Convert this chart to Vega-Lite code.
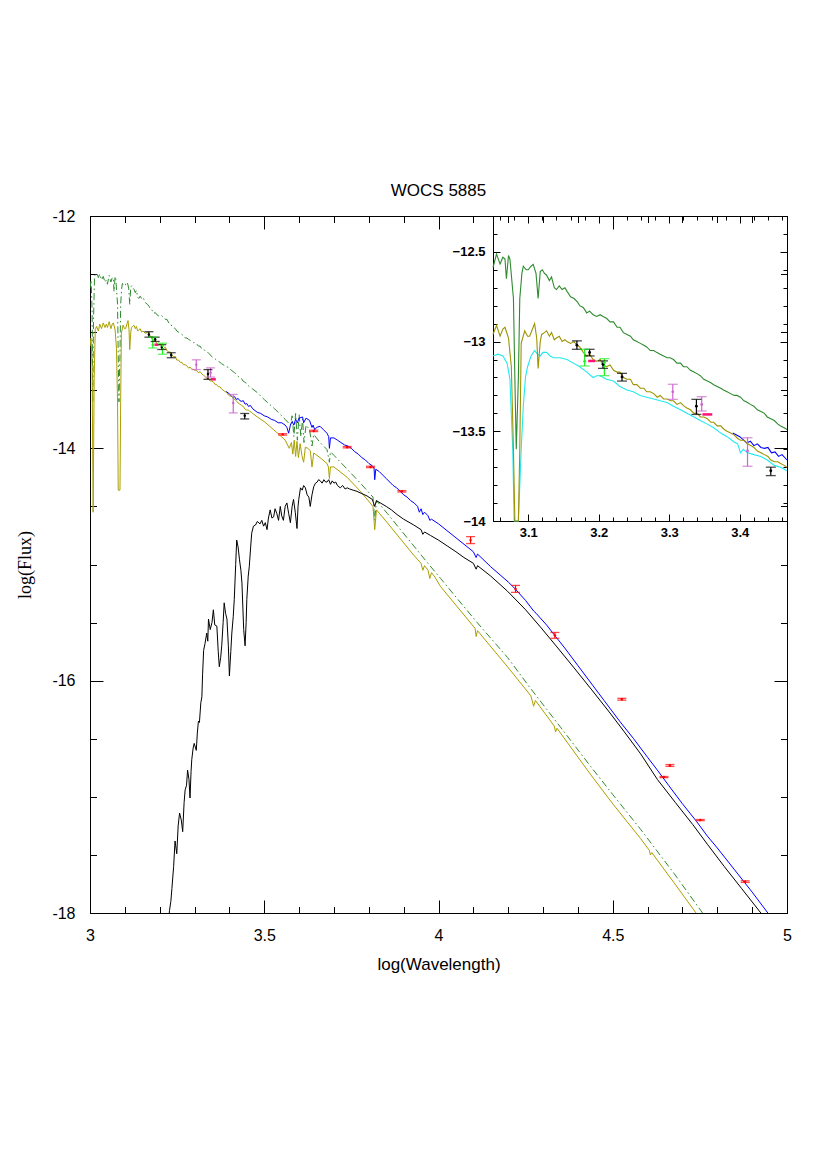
{
"$schema": "https://vega.github.io/schema/vega-lite/v6.json",
"width": 697, "height": 697,
"autosize": {"type": "none"},
"padding": {"left": 90, "top": 216, "right": 43, "bottom": 262},
"background": "white",
"title": {"text": "WOCS 5885", "font": "Liberation Sans", "fontSize": 17, "fontWeight": "normal", "color": "black", "offset": -5, "baseline": "alphabetic"},
"config": {"view": {"stroke": null}, "axis": {"grid": false, "domainColor": "black", "tickColor": "black", "labelColor": "black", "titleColor": "black", "domainWidth": 1, "tickWidth": 1}},
"datasets": {
"lines": [
{"s":"g","x":3.000,"y":-12.62},{"s":"g","x":3.003,"y":-12.55},{"s":"g","x":3.006,"y":-12.80},{"s":"g","x":3.008,"y":-13.60},{"s":"g","x":3.010,"y":-12.90},{"s":"g","x":3.013,"y":-12.52},{"s":"g","x":3.019,"y":-12.49},{"s":"g","x":3.024,"y":-12.53},{"s":"g","x":3.028,"y":-12.50},{"s":"g","x":3.033,"y":-12.55},{"s":"g","x":3.038,"y":-12.52},{"s":"g","x":3.043,"y":-12.57},{"s":"g","x":3.047,"y":-12.55},{"s":"g","x":3.050,"y":-12.587},{"s":"g","x":3.055,"y":-12.512},{"s":"g","x":3.060,"y":-12.568},{"s":"g","x":3.064,"y":-12.53},{"s":"g","x":3.067,"y":-12.54},{"s":"g","x":3.069,"y":-12.65},{"s":"g","x":3.072,"y":-12.52},{"s":"g","x":3.074,"y":-12.54},{"s":"g","x":3.079,"y":-12.76},{"s":"g","x":3.081,"y":-13.2},{"s":"g","x":3.083,"y":-13.60},{"s":"g","x":3.086,"y":-13.2},{"s":"g","x":3.088,"y":-12.76},{"s":"g","x":3.091,"y":-12.62},{"s":"g","x":3.093,"y":-12.58},{"s":"g","x":3.097,"y":-12.60},{"s":"g","x":3.100,"y":-12.60},{"s":"g","x":3.104,"y":-12.58},{"s":"g","x":3.107,"y":-12.57},{"s":"g","x":3.111,"y":-12.62},{"s":"g","x":3.114,"y":-12.76},{"s":"g","x":3.117,"y":-12.61},{"s":"g","x":3.120,"y":-12.60},{"s":"g","x":3.123,"y":-12.62},{"s":"g","x":3.126,"y":-12.63},{"s":"g","x":3.130,"y":-12.66},{"s":"g","x":3.133,"y":-12.64},{"s":"g","x":3.137,"y":-12.70},{"s":"g","x":3.140,"y":-12.71},{"s":"g","x":3.144,"y":-12.69},{"s":"g","x":3.148,"y":-12.71},{"s":"g","x":3.152,"y":-12.70},{"s":"g","x":3.155,"y":-12.72},{"s":"g","x":3.160,"y":-12.75},{"s":"g","x":3.165,"y":-12.76},{"s":"g","x":3.170,"y":-12.78},{"s":"g","x":3.173,"y":-12.80},{"s":"g","x":3.178,"y":-12.81},{"s":"g","x":3.183,"y":-12.84},{"s":"g","x":3.187,"y":-12.83},{"s":"g","x":3.192,"y":-12.85},{"s":"g","x":3.197,"y":-12.86},{"s":"g","x":3.202,"y":-12.85},{"s":"g","x":3.206,"y":-12.86},{"s":"g","x":3.211,"y":-12.87},{"s":"g","x":3.216,"y":-12.89},{"s":"g","x":3.221,"y":-12.89},{"s":"g","x":3.226,"y":-12.92},{"s":"g","x":3.230,"y":-12.92},{"s":"g","x":3.235,"y":-12.95},{"s":"g","x":3.240,"y":-12.96},{"s":"g","x":3.245,"y":-12.97},{"s":"g","x":3.249,"y":-12.99},{"s":"g","x":3.254,"y":-13.00},{"s":"g","x":3.259,"y":-13.01},{"s":"g","x":3.264,"y":-13.02},{"s":"g","x":3.268,"y":-13.03},{"s":"g","x":3.273,"y":-13.05},{"s":"g","x":3.278,"y":-13.05},{"s":"g","x":3.282,"y":-13.06},{"s":"g","x":3.287,"y":-13.07},{"s":"g","x":3.292,"y":-13.08},{"s":"g","x":3.297,"y":-13.09},{"s":"g","x":3.301,"y":-13.09},{"s":"g","x":3.306,"y":-13.10},{"s":"g","x":3.311,"y":-13.12},{"s":"g","x":3.316,"y":-13.12},{"s":"g","x":3.320,"y":-13.14},{"s":"g","x":3.325,"y":-13.14},{"s":"g","x":3.330,"y":-13.16},{"s":"g","x":3.335,"y":-13.17},{"s":"g","x":3.340,"y":-13.18},{"s":"g","x":3.344,"y":-13.19},{"s":"g","x":3.349,"y":-13.21},{"s":"g","x":3.354,"y":-13.22},{"s":"g","x":3.359,"y":-13.23},{"s":"g","x":3.363,"y":-13.24},{"s":"g","x":3.368,"y":-13.25},{"s":"g","x":3.373,"y":-13.26},{"s":"g","x":3.377,"y":-13.27},{"s":"g","x":3.382,"y":-13.28},{"s":"g","x":3.387,"y":-13.29},{"s":"g","x":3.392,"y":-13.30},{"s":"g","x":3.396,"y":-13.30},{"s":"g","x":3.401,"y":-13.31},{"s":"g","x":3.406,"y":-13.33},{"s":"g","x":3.411,"y":-13.34},{"s":"g","x":3.415,"y":-13.35},{"s":"g","x":3.420,"y":-13.36},{"s":"g","x":3.425,"y":-13.38},{"s":"g","x":3.430,"y":-13.39},{"s":"g","x":3.435,"y":-13.40},{"s":"g","x":3.439,"y":-13.42},{"s":"g","x":3.444,"y":-13.43},{"s":"g","x":3.449,"y":-13.44},{"s":"g","x":3.454,"y":-13.46},{"s":"g","x":3.458,"y":-13.47},{"s":"g","x":3.463,"y":-13.48},{"s":"g","x":3.467,"y":-13.49},{"s":"g","x":3.48,"y":-13.52},{"s":"g","x":3.50,"y":-13.58},{"s":"g","x":3.53,"y":-13.66},{"s":"g","x":3.56,"y":-13.75},{"s":"g","x":3.575,"y":-13.80},{"s":"g","x":3.58,"y":-13.72},{"s":"g","x":3.585,"y":-13.90},{"s":"g","x":3.59,"y":-13.70},{"s":"g","x":3.595,"y":-13.93},{"s":"g","x":3.60,"y":-13.71},{"s":"g","x":3.605,"y":-13.90},{"s":"g","x":3.61,"y":-13.75},{"s":"g","x":3.614,"y":-13.95},{"s":"g","x":3.62,"y":-13.80},{"s":"g","x":3.63,"y":-13.84},{"s":"g","x":3.637,"y":-13.98},{"s":"g","x":3.642,"y":-13.88},{"s":"g","x":3.66,"y":-13.95},{"s":"g","x":3.68,"y":-14.01},{"s":"g","x":3.687,"y":-14.12},{"s":"g","x":3.69,"y":-14.03},{"s":"g","x":3.70,"y":-14.06},{"s":"g","x":3.738,"y":-14.18},{"s":"g","x":3.776,"y":-14.30},{"s":"g","x":3.812,"y":-14.42},{"s":"g","x":3.817,"y":-14.62},{"s":"g","x":3.822,"y":-14.45},{"s":"g","x":3.853,"y":-14.56},{"s":"g","x":3.891,"y":-14.70},{"s":"g","x":3.929,"y":-14.84},{"s":"g","x":3.967,"y":-14.98},{"s":"g","x":4.006,"y":-15.12},{"s":"g","x":4.05,"y":-15.28},{"s":"g","x":4.111,"y":-15.50},{"s":"g","x":4.198,"y":-15.80},{"s":"g","x":4.265,"y":-16.07},{"s":"g","x":4.35,"y":-16.40},{"s":"g","x":4.437,"y":-16.74},{"s":"g","x":4.50,"y":-16.98},{"s":"g","x":4.58,"y":-17.28},{"s":"g","x":4.676,"y":-17.66},{"s":"g","x":4.753,"y":-17.98},{"s":"g","x":4.77,"y":-18.05},
{"s":"y","x":3.000,"y":-13.12},{"s":"y","x":3.003,"y":-13.05},{"s":"y","x":3.006,"y":-13.30},{"s":"y","x":3.009,"y":-14.55},{"s":"y","x":3.012,"y":-13.40},{"s":"y","x":3.015,"y":-12.98},{"s":"y","x":3.019,"y":-12.95},{"s":"y","x":3.024,"y":-12.99},{"s":"y","x":3.028,"y":-12.93},{"s":"y","x":3.033,"y":-12.97},{"s":"y","x":3.038,"y":-12.92},{"s":"y","x":3.043,"y":-12.96},{"s":"y","x":3.047,"y":-12.93},{"s":"y","x":3.050,"y":-12.96},{"s":"y","x":3.055,"y":-12.91},{"s":"y","x":3.060,"y":-12.97},{"s":"y","x":3.064,"y":-12.93},{"s":"y","x":3.067,"y":-12.92},{"s":"y","x":3.072,"y":-12.98},{"s":"y","x":3.076,"y":-13.14},{"s":"y","x":3.079,"y":-13.6},{"s":"y","x":3.081,"y":-14.36},{"s":"y","x":3.086,"y":-14.36},{"s":"y","x":3.088,"y":-13.6},{"s":"y","x":3.090,"y":-13.01},{"s":"y","x":3.095,"y":-12.94},{"s":"y","x":3.099,"y":-12.97},{"s":"y","x":3.102,"y":-12.97},{"s":"y","x":3.106,"y":-12.93},{"s":"y","x":3.109,"y":-12.90},{"s":"y","x":3.112,"y":-12.98},{"s":"y","x":3.114,"y":-13.15},{"s":"y","x":3.117,"y":-13.00},{"s":"y","x":3.119,"y":-12.96},{"s":"y","x":3.123,"y":-12.95},{"s":"y","x":3.126,"y":-12.94},{"s":"y","x":3.130,"y":-12.97},{"s":"y","x":3.133,"y":-12.95},{"s":"y","x":3.137,"y":-12.99},{"s":"y","x":3.140,"y":-12.98},{"s":"y","x":3.144,"y":-12.97},{"s":"y","x":3.148,"y":-13.00},{"s":"y","x":3.152,"y":-12.99},{"s":"y","x":3.155,"y":-13.00},{"s":"y","x":3.160,"y":-13.01},{"s":"y","x":3.165,"y":-13.00},{"s":"y","x":3.169,"y":-13.02},{"s":"y","x":3.173,"y":-13.03},{"s":"y","x":3.178,"y":-13.06},{"s":"y","x":3.183,"y":-13.08},{"s":"y","x":3.187,"y":-13.07},{"s":"y","x":3.192,"y":-13.10},{"s":"y","x":3.197,"y":-13.11},{"s":"y","x":3.202,"y":-13.10},{"s":"y","x":3.206,"y":-13.13},{"s":"y","x":3.211,"y":-13.14},{"s":"y","x":3.216,"y":-13.13},{"s":"y","x":3.221,"y":-13.16},{"s":"y","x":3.226,"y":-13.17},{"s":"y","x":3.230,"y":-13.17},{"s":"y","x":3.235,"y":-13.20},{"s":"y","x":3.240,"y":-13.21},{"s":"y","x":3.245,"y":-13.21},{"s":"y","x":3.249,"y":-13.24},{"s":"y","x":3.254,"y":-13.24},{"s":"y","x":3.259,"y":-13.26},{"s":"y","x":3.264,"y":-13.26},{"s":"y","x":3.268,"y":-13.28},{"s":"y","x":3.273,"y":-13.28},{"s":"y","x":3.278,"y":-13.29},{"s":"y","x":3.283,"y":-13.31},{"s":"y","x":3.287,"y":-13.30},{"s":"y","x":3.292,"y":-13.32},{"s":"y","x":3.297,"y":-13.32},{"s":"y","x":3.302,"y":-13.33},{"s":"y","x":3.306,"y":-13.33},{"s":"y","x":3.311,"y":-13.35},{"s":"y","x":3.316,"y":-13.34},{"s":"y","x":3.321,"y":-13.36},{"s":"y","x":3.325,"y":-13.37},{"s":"y","x":3.330,"y":-13.38},{"s":"y","x":3.335,"y":-13.40},{"s":"y","x":3.340,"y":-13.40},{"s":"y","x":3.344,"y":-13.42},{"s":"y","x":3.349,"y":-13.42},{"s":"y","x":3.354,"y":-13.43},{"s":"y","x":3.359,"y":-13.45},{"s":"y","x":3.363,"y":-13.45},{"s":"y","x":3.368,"y":-13.47},{"s":"y","x":3.373,"y":-13.47},{"s":"y","x":3.378,"y":-13.49},{"s":"y","x":3.382,"y":-13.50},{"s":"y","x":3.387,"y":-13.51},{"s":"y","x":3.392,"y":-13.52},{"s":"y","x":3.397,"y":-13.54},{"s":"y","x":3.401,"y":-13.55},{"s":"y","x":3.406,"y":-13.55},{"s":"y","x":3.411,"y":-13.57},{"s":"y","x":3.416,"y":-13.58},{"s":"y","x":3.420,"y":-13.59},{"s":"y","x":3.425,"y":-13.61},{"s":"y","x":3.430,"y":-13.62},{"s":"y","x":3.435,"y":-13.63},{"s":"y","x":3.440,"y":-13.64},{"s":"y","x":3.444,"y":-13.66},{"s":"y","x":3.449,"y":-13.67},{"s":"y","x":3.454,"y":-13.67},{"s":"y","x":3.458,"y":-13.68},{"s":"y","x":3.463,"y":-13.69},{"s":"y","x":3.467,"y":-13.70},{"s":"y","x":3.48,"y":-13.73},{"s":"y","x":3.50,"y":-13.77},{"s":"y","x":3.527,"y":-13.84},{"s":"y","x":3.546,"y":-13.89},{"s":"y","x":3.56,"y":-13.93},{"s":"y","x":3.572,"y":-14.00},{"s":"y","x":3.578,"y":-13.95},{"s":"y","x":3.582,"y":-14.05},{"s":"y","x":3.586,"y":-13.93},{"s":"y","x":3.590,"y":-14.07},{"s":"y","x":3.594,"y":-13.94},{"s":"y","x":3.598,"y":-14.08},{"s":"y","x":3.603,"y":-13.96},{"s":"y","x":3.608,"y":-14.06},{"s":"y","x":3.613,"y":-14.12},{"s":"y","x":3.618,"y":-13.99},{"s":"y","x":3.625,"y":-14.00},{"s":"y","x":3.632,"y":-14.02},{"s":"y","x":3.637,"y":-14.16},{"s":"y","x":3.642,"y":-14.04},{"s":"y","x":3.66,"y":-14.08},{"s":"y","x":3.68,"y":-14.13},{"s":"y","x":3.684,"y":-14.16},{"s":"y","x":3.687,"y":-14.26},{"s":"y","x":3.690,"y":-14.16},{"s":"y","x":3.70,"y":-14.16},{"s":"y","x":3.738,"y":-14.25},{"s":"y","x":3.776,"y":-14.37},{"s":"y","x":3.812,"y":-14.50},{"s":"y","x":3.817,"y":-14.70},{"s":"y","x":3.822,"y":-14.53},{"s":"y","x":3.853,"y":-14.64},{"s":"y","x":3.891,"y":-14.78},{"s":"y","x":3.929,"y":-14.92},{"s":"y","x":3.95,"y":-14.99},{"s":"y","x":3.955,"y":-15.05},{"s":"y","x":3.96,"y":-15.01},{"s":"y","x":3.97,"y":-15.05},{"s":"y","x":3.975,"y":-15.12},{"s":"y","x":3.98,"y":-15.07},{"s":"y","x":3.99,"y":-15.11},{"s":"y","x":4.006,"y":-15.19},{"s":"y","x":4.05,"y":-15.35},{"s":"y","x":4.105,"y":-15.55},{"s":"y","x":4.108,"y":-15.62},{"s":"y","x":4.112,"y":-15.57},{"s":"y","x":4.198,"y":-15.88},{"s":"y","x":4.265,"y":-16.13},{"s":"y","x":4.273,"y":-16.22},{"s":"y","x":4.278,"y":-16.17},{"s":"y","x":4.332,"y":-16.39},{"s":"y","x":4.336,"y":-16.44},{"s":"y","x":4.34,"y":-16.41},{"s":"y","x":4.437,"y":-16.81},{"s":"y","x":4.50,"y":-17.06},{"s":"y","x":4.58,"y":-17.36},{"s":"y","x":4.605,"y":-17.46},{"s":"y","x":4.608,"y":-17.50},{"s":"y","x":4.612,"y":-17.48},{"s":"y","x":4.676,"y":-17.74},{"s":"y","x":4.739,"y":-18.0},{"s":"y","x":4.75,"y":-18.05},
{"s":"b","x":3.39,"y":-13.51},{"s":"b","x":3.40,"y":-13.53},{"s":"b","x":3.41,"y":-13.565},{"s":"b","x":3.415,"y":-13.555},{"s":"b","x":3.42,"y":-13.58},{"s":"b","x":3.425,"y":-13.57},{"s":"b","x":3.43,"y":-13.59},{"s":"b","x":3.435,"y":-13.595},{"s":"b","x":3.44,"y":-13.59},{"s":"b","x":3.445,"y":-13.62},{"s":"b","x":3.45,"y":-13.615},{"s":"b","x":3.455,"y":-13.64},{"s":"b","x":3.46,"y":-13.63},{"s":"b","x":3.467,"y":-13.66},{"s":"b","x":3.48,"y":-13.69},{"s":"b","x":3.49,"y":-13.70},{"s":"b","x":3.50,"y":-13.72},{"s":"b","x":3.51,"y":-13.73},{"s":"b","x":3.52,"y":-13.75},{"s":"b","x":3.53,"y":-13.76},{"s":"b","x":3.54,"y":-13.78},{"s":"b","x":3.55,"y":-13.78},{"s":"b","x":3.56,"y":-13.80},{"s":"b","x":3.565,"y":-13.82},{"s":"b","x":3.57,"y":-13.87},{"s":"b","x":3.575,"y":-13.80},{"s":"b","x":3.58,"y":-13.77},{"s":"b","x":3.585,"y":-13.80},{"s":"b","x":3.59,"y":-13.75},{"s":"b","x":3.595,"y":-13.78},{"s":"b","x":3.60,"y":-13.74},{"s":"b","x":3.61,"y":-13.73},{"s":"b","x":3.613,"y":-13.78},{"s":"b","x":3.62,"y":-13.74},{"s":"b","x":3.63,"y":-13.76},{"s":"b","x":3.637,"y":-13.82},{"s":"b","x":3.64,"y":-13.80},{"s":"b","x":3.645,"y":-13.84},{"s":"b","x":3.65,"y":-13.82},{"s":"b","x":3.66,"y":-13.81},{"s":"b","x":3.67,"y":-13.84},{"s":"b","x":3.68,"y":-13.87},{"s":"b","x":3.685,"y":-13.90},{"s":"b","x":3.687,"y":-14.00},{"s":"b","x":3.69,"y":-13.91},{"s":"b","x":3.70,"y":-13.91},{"s":"b","x":3.71,"y":-13.93},{"s":"b","x":3.72,"y":-13.95},{"s":"b","x":3.73,"y":-13.97},{"s":"b","x":3.74,"y":-13.98},{"s":"b","x":3.75,"y":-14.00},{"s":"b","x":3.76,"y":-14.03},{"s":"b","x":3.77,"y":-14.05},{"s":"b","x":3.78,"y":-14.08},{"s":"b","x":3.79,"y":-14.10},{"s":"b","x":3.80,"y":-14.13},{"s":"b","x":3.81,"y":-14.15},{"s":"b","x":3.815,"y":-14.17},{"s":"b","x":3.817,"y":-14.27},{"s":"b","x":3.82,"y":-14.18},{"s":"b","x":3.83,"y":-14.20},{"s":"b","x":3.84,"y":-14.23},{"s":"b","x":3.85,"y":-14.26},{"s":"b","x":3.86,"y":-14.29},{"s":"b","x":3.87,"y":-14.32},{"s":"b","x":3.88,"y":-14.34},{"s":"b","x":3.89,"y":-14.37},{"s":"b","x":3.90,"y":-14.40},{"s":"b","x":3.91,"y":-14.42},{"s":"b","x":3.92,"y":-14.45},{"s":"b","x":3.93,"y":-14.47},{"s":"b","x":3.94,"y":-14.50},{"s":"b","x":3.945,"y":-14.55},{"s":"b","x":3.95,"y":-14.52},{"s":"b","x":3.955,"y":-14.57},{"s":"b","x":3.96,"y":-14.55},{"s":"b","x":3.97,"y":-14.58},{"s":"b","x":3.975,"y":-14.62},{"s":"b","x":3.98,"y":-14.61},{"s":"b","x":3.99,"y":-14.63},{"s":"b","x":4.00,"y":-14.65},{"s":"b","x":4.05,"y":-14.77},{"s":"b","x":4.10,"y":-14.89},{"s":"b","x":4.108,"y":-14.94},{"s":"b","x":4.112,"y":-14.91},{"s":"b","x":4.15,"y":-15.02},{"s":"b","x":4.20,"y":-15.15},{"s":"b","x":4.22,"y":-15.21},{"s":"b","x":4.25,"y":-15.31},{"s":"b","x":4.273,"y":-15.40},{"s":"b","x":4.28,"y":-15.42},{"s":"b","x":4.31,"y":-15.52},{"s":"b","x":4.336,"y":-15.62},{"s":"b","x":4.36,"y":-15.71},{"s":"b","x":4.40,"y":-15.87},{"s":"b","x":4.44,"y":-16.03},{"s":"b","x":4.475,"y":-16.17},{"s":"b","x":4.52,"y":-16.35},{"s":"b","x":4.56,"y":-16.50},{"s":"b","x":4.60,"y":-16.66},{"s":"b","x":4.628,"y":-16.77},{"s":"b","x":4.66,"y":-16.90},{"s":"b","x":4.70,"y":-17.06},{"s":"b","x":4.74,"y":-17.21},{"s":"b","x":4.772,"y":-17.34},{"s":"b","x":4.80,"y":-17.44},{"s":"b","x":4.85,"y":-17.63},{"s":"b","x":4.90,"y":-17.82},{"s":"b","x":4.945,"y":-18.0},{"s":"b","x":4.96,"y":-18.06},
{"s":"k","x":3.222,"y":-18.3},{"s":"k","x":3.228,"y":-17.98},{"s":"k","x":3.232,"y":-17.90},{"s":"k","x":3.235,"y":-17.79},{"s":"k","x":3.240,"y":-17.60},{"s":"k","x":3.244,"y":-17.38},{"s":"k","x":3.249,"y":-17.49},{"s":"k","x":3.253,"y":-17.25},{"s":"k","x":3.257,"y":-17.14},{"s":"k","x":3.262,"y":-17.20},{"s":"k","x":3.266,"y":-17.30},{"s":"k","x":3.270,"y":-17.05},{"s":"k","x":3.273,"y":-16.94},{"s":"k","x":3.277,"y":-16.90},{"s":"k","x":3.280,"y":-16.77},{"s":"k","x":3.284,"y":-16.85},{"s":"k","x":3.287,"y":-17.01},{"s":"k","x":3.290,"y":-16.78},{"s":"k","x":3.292,"y":-16.68},{"s":"k","x":3.296,"y":-16.58},{"s":"k","x":3.299,"y":-16.54},{"s":"k","x":3.303,"y":-16.58},{"s":"k","x":3.305,"y":-16.60},{"s":"k","x":3.308,"y":-16.45},{"s":"k","x":3.311,"y":-16.35},{"s":"k","x":3.314,"y":-16.36},{"s":"k","x":3.318,"y":-16.19},{"s":"k","x":3.321,"y":-16.14},{"s":"k","x":3.323,"y":-15.95},{"s":"k","x":3.326,"y":-15.74},{"s":"k","x":3.330,"y":-15.68},{"s":"k","x":3.335,"y":-15.59},{"s":"k","x":3.338,"y":-15.66},{"s":"k","x":3.340,"y":-15.47},{"s":"k","x":3.345,"y":-15.56},{"s":"k","x":3.350,"y":-15.50},{"s":"k","x":3.354,"y":-15.39},{"s":"k","x":3.358,"y":-15.52},{"s":"k","x":3.364,"y":-15.53},{"s":"k","x":3.368,"y":-15.75},{"s":"k","x":3.371,"y":-15.88},{"s":"k","x":3.375,"y":-15.80},{"s":"k","x":3.378,"y":-15.70},{"s":"k","x":3.382,"y":-15.50},{"s":"k","x":3.385,"y":-15.33},{"s":"k","x":3.389,"y":-15.42},{"s":"k","x":3.393,"y":-15.47},{"s":"k","x":3.397,"y":-15.70},{"s":"k","x":3.400,"y":-15.96},{"s":"k","x":3.404,"y":-15.75},{"s":"k","x":3.407,"y":-15.59},{"s":"k","x":3.411,"y":-15.45},{"s":"k","x":3.414,"y":-15.30},{"s":"k","x":3.418,"y":-15.00},{"s":"k","x":3.421,"y":-14.79},{"s":"k","x":3.425,"y":-14.85},{"s":"k","x":3.429,"y":-14.96},{"s":"k","x":3.433,"y":-15.05},{"s":"k","x":3.436,"y":-15.16},{"s":"k","x":3.441,"y":-15.56},{"s":"k","x":3.445,"y":-15.70},{"s":"k","x":3.448,"y":-15.50},{"s":"k","x":3.450,"y":-15.30},{"s":"k","x":3.454,"y":-15.10},{"s":"k","x":3.457,"y":-15.02},{"s":"k","x":3.461,"y":-14.85},{"s":"k","x":3.464,"y":-14.73},{"s":"k","x":3.469,"y":-14.67},{"s":"k","x":3.475,"y":-14.66},{"s":"k","x":3.480,"y":-14.63},{"s":"k","x":3.488,"y":-14.65},{"s":"k","x":3.493,"y":-14.62},{"s":"k","x":3.498,"y":-14.67},{"s":"k","x":3.503,"y":-14.64},{"s":"k","x":3.508,"y":-14.70},{"s":"k","x":3.512,"y":-14.60},{"s":"k","x":3.517,"y":-14.53},{"s":"k","x":3.522,"y":-14.60},{"s":"k","x":3.527,"y":-14.59},{"s":"k","x":3.531,"y":-14.52},{"s":"k","x":3.536,"y":-14.56},{"s":"k","x":3.541,"y":-14.62},{"s":"k","x":3.546,"y":-14.50},{"s":"k","x":3.550,"y":-14.58},{"s":"k","x":3.555,"y":-14.62},{"s":"k","x":3.560,"y":-14.50},{"s":"k","x":3.565,"y":-14.47},{"s":"k","x":3.570,"y":-14.56},{"s":"k","x":3.575,"y":-14.64},{"s":"k","x":3.580,"y":-14.50},{"s":"k","x":3.584,"y":-14.44},{"s":"k","x":3.589,"y":-14.55},{"s":"k","x":3.594,"y":-14.69},{"s":"k","x":3.597,"y":-14.50},{"s":"k","x":3.599,"y":-14.44},{"s":"k","x":3.604,"y":-14.34},{"s":"k","x":3.609,"y":-14.36},{"s":"k","x":3.613,"y":-14.32},{"s":"k","x":3.618,"y":-14.34},{"s":"k","x":3.623,"y":-14.40},{"s":"k","x":3.628,"y":-14.42},{"s":"k","x":3.632,"y":-14.50},{"s":"k","x":3.637,"y":-14.40},{"s":"k","x":3.642,"y":-14.33},{"s":"k","x":3.647,"y":-14.30},{"s":"k","x":3.652,"y":-14.29},{"s":"k","x":3.656,"y":-14.27},{"s":"k","x":3.661,"y":-14.28},{"s":"k","x":3.666,"y":-14.30},{"s":"k","x":3.671,"y":-14.27},{"s":"k","x":3.676,"y":-14.29},{"s":"k","x":3.680,"y":-14.29},{"s":"k","x":3.685,"y":-14.27},{"s":"k","x":3.690,"y":-14.31},{"s":"k","x":3.695,"y":-14.28},{"s":"k","x":3.700,"y":-14.30},{"s":"k","x":3.705,"y":-14.29},{"s":"k","x":3.710,"y":-14.32},{"s":"k","x":3.718,"y":-14.34},{"s":"k","x":3.725,"y":-14.32},{"s":"k","x":3.732,"y":-14.35},{"s":"k","x":3.738,"y":-14.34},{"s":"k","x":3.745,"y":-14.35},{"s":"k","x":3.755,"y":-14.36},{"s":"k","x":3.766,"y":-14.37},{"s":"k","x":3.780,"y":-14.39},{"s":"k","x":3.795,"y":-14.41},{"s":"k","x":3.810,"y":-14.44},{"s":"k","x":3.817,"y":-14.50},{"s":"k","x":3.822,"y":-14.45},{"s":"k","x":3.833,"y":-14.47},{"s":"k","x":3.850,"y":-14.50},{"s":"k","x":3.865,"y":-14.53},{"s":"k","x":3.881,"y":-14.57},{"s":"k","x":3.900,"y":-14.61},{"s":"k","x":3.929,"y":-14.66},{"s":"k","x":3.950,"y":-14.70},{"s":"k","x":3.955,"y":-14.74},{"s":"k","x":3.960,"y":-14.72},{"s":"k","x":3.977,"y":-14.75},{"s":"k","x":4.000,"y":-14.79},{"s":"k","x":4.025,"y":-14.84},{"s":"k","x":4.050,"y":-14.89},{"s":"k","x":4.073,"y":-14.94},{"s":"k","x":4.100,"y":-14.99},{"s":"k","x":4.108,"y":-15.04},{"s":"k","x":4.112,"y":-15.01},{"s":"k","x":4.150,"y":-15.10},{"s":"k","x":4.198,"y":-15.23},{"s":"k","x":4.250,"y":-15.39},{"s":"k","x":4.293,"y":-15.54},{"s":"k","x":4.340,"y":-15.71},{"s":"k","x":4.389,"y":-15.89},{"s":"k","x":4.440,"y":-16.08},{"s":"k","x":4.490,"y":-16.27},{"s":"k","x":4.533,"y":-16.44},{"s":"k","x":4.580,"y":-16.63},{"s":"k","x":4.628,"y":-16.85},{"s":"k","x":4.680,"y":-17.05},{"s":"k","x":4.730,"y":-17.24},{"s":"k","x":4.772,"y":-17.41},{"s":"k","x":4.820,"y":-17.60},{"s":"k","x":4.870,"y":-17.79},{"s":"k","x":4.925,"y":-18.0},{"s":"k","x":4.94,"y":-18.06},
{"s":"c","x":3.050,"y":-13.08},{"s":"c","x":3.057,"y":-13.07},{"s":"c","x":3.064,"y":-13.08},{"s":"c","x":3.070,"y":-13.12},{"s":"c","x":3.074,"y":-13.21},{"s":"c","x":3.078,"y":-13.6},{"s":"c","x":3.080,"y":-14.3},{"s":"c","x":3.086,"y":-14.3},{"s":"c","x":3.090,"y":-13.6},{"s":"c","x":3.093,"y":-13.36},{"s":"c","x":3.096,"y":-13.20},{"s":"c","x":3.099,"y":-13.14},{"s":"c","x":3.104,"y":-13.08},{"s":"c","x":3.109,"y":-13.05},{"s":"c","x":3.113,"y":-13.07},{"s":"c","x":3.117,"y":-13.08},{"s":"c","x":3.121,"y":-13.06},{"s":"c","x":3.126,"y":-13.06},{"s":"c","x":3.131,"y":-13.08},{"s":"c","x":3.136,"y":-13.09},{"s":"c","x":3.145,"y":-13.09},{"s":"c","x":3.155,"y":-13.10},{"s":"c","x":3.164,"y":-13.12},{"s":"c","x":3.173,"y":-13.14},{"s":"c","x":3.183,"y":-13.17},{"s":"c","x":3.192,"y":-13.20},{"s":"c","x":3.197,"y":-13.19},{"s":"c","x":3.202,"y":-13.19},{"s":"c","x":3.211,"y":-13.21},{"s":"c","x":3.221,"y":-13.22},{"s":"c","x":3.230,"y":-13.25},{"s":"c","x":3.240,"y":-13.27},{"s":"c","x":3.249,"y":-13.28},{"s":"c","x":3.259,"y":-13.30},{"s":"c","x":3.268,"y":-13.31},{"s":"c","x":3.278,"y":-13.32},{"s":"c","x":3.287,"y":-13.33},{"s":"c","x":3.297,"y":-13.34},{"s":"c","x":3.306,"y":-13.36},{"s":"c","x":3.316,"y":-13.38},{"s":"c","x":3.325,"y":-13.40},{"s":"c","x":3.335,"y":-13.42},{"s":"c","x":3.344,"y":-13.44},{"s":"c","x":3.354,"y":-13.46},{"s":"c","x":3.363,"y":-13.48},{"s":"c","x":3.373,"y":-13.51},{"s":"c","x":3.382,"y":-13.53},{"s":"c","x":3.392,"y":-13.56},{"s":"c","x":3.397,"y":-13.57},{"s":"c","x":3.401,"y":-13.62},{"s":"c","x":3.405,"y":-13.60},{"s":"c","x":3.411,"y":-13.62},{"s":"c","x":3.420,"y":-13.63},{"s":"c","x":3.430,"y":-13.64},{"s":"c","x":3.439,"y":-13.66},{"s":"c","x":3.449,"y":-13.69},{"s":"c","x":3.458,"y":-13.70},{"s":"c","x":3.467,"y":-13.72}
],
"phot": [
{"set":"blk","x":3.169,"y":-13.02,"lo":-13.043,"hi":-12.996},
{"set":"blk","x":3.187,"y":-13.061,"lo":-13.08,"hi":-13.043},
{"set":"blk","x":3.206,"y":-13.127,"lo":-13.149,"hi":-13.108},
{"set":"blk","x":3.233,"y":-13.197,"lo":-13.22,"hi":-13.177},
{"set":"blk","x":3.3385,"y":-13.36,"lo":-13.406,"hi":-13.322},
{"set":"blk","x":3.444,"y":-13.72,"lo":-13.747,"hi":-13.70},
{"set":"lime","x":3.180,"y":-13.11,"lo":-13.136,"hi":-13.043},
{"set":"lime","x":3.208,"y":-13.117,"lo":-13.19,"hi":-13.095},
{"set":"orc","x":3.305,"y":-13.28,"lo":-13.322,"hi":-13.238},
{"set":"orc","x":3.346,"y":-13.35,"lo":-13.387,"hi":-13.307},
{"set":"orc","x":3.411,"y":-13.61,"lo":-13.695,"hi":-13.536},
{"set":"red","x":3.553,"y":-13.88,"lo":-13.886,"hi":-13.874},
{"set":"red","x":3.642,"y":-13.85,"lo":-13.856,"hi":-13.844},
{"set":"red","x":3.738,"y":-13.99,"lo":-13.996,"hi":-13.984},
{"set":"red","x":3.805,"y":-14.16,"lo":-14.166,"hi":-14.154},
{"set":"red","x":3.895,"y":-14.37,"lo":-14.376,"hi":-14.364},
{"set":"red","x":4.092,"y":-14.79,"lo":-14.82,"hi":-14.76},
{"set":"red","x":4.221,"y":-15.21,"lo":-15.24,"hi":-15.18},
{"set":"red","x":4.334,"y":-15.61,"lo":-15.635,"hi":-15.585},
{"set":"red","x":4.526,"y":-16.16,"lo":-16.168,"hi":-16.152},
{"set":"red","x":4.664,"y":-16.73,"lo":-16.738,"hi":-16.722},
{"set":"red","x":4.647,"y":-16.83,"lo":-16.835,"hi":-16.825},
{"set":"red","x":4.751,"y":-17.20,"lo":-17.205,"hi":-17.195},
{"set":"red","x":4.880,"y":-17.73,"lo":-17.737,"hi":-17.723}
],
"photx": [
{"set":"pink","x":3.190,"y":-13.108,"xlo":3.185,"xhi":3.195},
{"set":"pink","x":3.354,"y":-13.406,"xlo":3.347,"xhi":3.361}
]
},
"resolve": {"scale": {"x": "independent", "y": "independent"}, "axis": {"x": "independent", "y": "independent"}},
"layer": [
{
 "encoding": {
  "x": {"field": "x", "type": "quantitative", "scale": {"domain": [3, 5], "nice": false, "zero": false}, "axis": null},
  "y": {"field": "y", "type": "quantitative", "scale": {"domain": [-18, -12], "nice": false, "zero": false}, "axis": null}
 },
 "layer": [
  {"data": {"name": "lines"}, "transform": [{"filter": "datum.s === 'g'"}], "mark": {"type": "line", "color": "#2e8b2e", "strokeWidth": 1, "strokeDash": [7, 3, 1.5, 3], "clip": true}},
  {"data": {"name": "lines"}, "transform": [{"filter": "datum.s === 'b'"}], "mark": {"type": "line", "color": "#0000ff", "strokeWidth": 1, "clip": true}},
  {"data": {"name": "lines"}, "transform": [{"filter": "datum.s === 'y'"}], "mark": {"type": "line", "color": "#aaa000", "strokeWidth": 1, "clip": true}},
  {"data": {"name": "lines"}, "transform": [{"filter": "datum.s === 'k'"}], "mark": {"type": "line", "color": "#000000", "strokeWidth": 1, "clip": true}},
  {"data": {"name": "phot"}, "mark": {"type": "rule", "strokeWidth": 1.2},
   "encoding": {"y": {"field": "lo", "type": "quantitative", "scale": {"domain": [-18, -12], "nice": false, "zero": false}, "axis": null}, "y2": {"field": "hi"},
    "color": {"field": "set", "type": "nominal", "scale": {"domain": ["blk", "lime", "orc", "pink", "red"], "range": ["#000000", "#22ee22", "#cc66cc", "#ff1177", "#ff0000"]}, "legend": null}}},
  {"data": {"name": "phot"}, "mark": {"type": "tick", "orient": "horizontal", "size": 9, "thickness": 1.3},
   "encoding": {"y": {"field": "lo", "type": "quantitative", "scale": {"domain": [-18, -12], "nice": false, "zero": false}, "axis": null},
    "color": {"field": "set", "type": "nominal", "scale": {"domain": ["blk", "lime", "orc", "pink", "red"], "range": ["#000000", "#22ee22", "#cc66cc", "#ff1177", "#ff0000"]}, "legend": null}}},
  {"data": {"name": "phot"}, "mark": {"type": "tick", "orient": "horizontal", "size": 9, "thickness": 1.3},
   "encoding": {"y": {"field": "hi", "type": "quantitative", "scale": {"domain": [-18, -12], "nice": false, "zero": false}, "axis": null},
    "color": {"field": "set", "type": "nominal", "scale": {"domain": ["blk", "lime", "orc", "pink", "red"], "range": ["#000000", "#22ee22", "#cc66cc", "#ff1177", "#ff0000"]}, "legend": null}}},
  {"data": {"name": "phot"}, "mark": {"type": "circle", "size": 6, "opacity": 1},
   "encoding": {"color": {"field": "set", "type": "nominal", "scale": {"domain": ["blk", "lime", "orc", "pink", "red"], "range": ["#000000", "#22ee22", "#cc66cc", "#ff1177", "#ff0000"]}, "legend": null}}},
  {"data": {"name": "photx"}, "mark": {"type": "rule", "strokeWidth": 2.5},
   "encoding": {"x": {"field": "xlo", "type": "quantitative", "scale": {"domain": [3, 5], "nice": false, "zero": false}, "axis": null}, "x2": {"field": "xhi"},
    "color": {"field": "set", "type": "nominal", "scale": {"domain": ["blk", "lime", "orc", "pink", "red"], "range": ["#000000", "#22ee22", "#cc66cc", "#ff1177", "#ff0000"]}, "legend": null}}}
 ]
},
{
 "data": {"values": [{"x": 3.2, "y": -13}]},
 "mark": {"type": "point", "opacity": 0},
 "encoding": {
  "x": {"field": "x", "type": "quantitative", "scale": {"domain": [3, 5], "nice": false, "zero": false},
        "axis": {"orient": "bottom", "values": [3, 3.5, 4, 4.5, 5], "tickSize": -13, "labelPadding": 27, "labelFont": "Liberation Sans", "labelFontSize": 16, "labelFlush": false, "labelOverlap": false, "labelExpr": "'' + datum.value", "title": "log(Wavelength)", "titleFont": "Liberation Sans", "titleFontSize": 17, "titleFontWeight": "normal", "titlePadding": 13}},
  "y": {"field": "y", "type": "quantitative", "scale": {"domain": [-18, -12], "nice": false, "zero": false},
        "axis": {"orient": "left", "values": [-12, -14, -16, -18], "tickSize": -13, "labelPadding": 28, "labelFont": "Liberation Sans", "labelFontSize": 16, "labelFlush": false, "labelOverlap": false, "labelExpr": "'-' + abs(datum.value)", "title": "log(Flux)", "titleFont": "Liberation Serif", "titleFontSize": 18, "titleFontWeight": "normal", "titlePadding": 17}}
 }
},
{
 "data": {"values": [{"x": 3.2, "y": -13}]},
 "mark": {"type": "point", "opacity": 0},
 "encoding": {
  "x": {"field": "x", "type": "quantitative", "scale": {"domain": [3, 5], "nice": false, "zero": false},
        "axis": {"orient": "bottom", "values": [3.1, 3.2, 3.3, 3.4, 3.6, 3.7, 3.8, 3.9, 4.1, 4.2, 4.3, 4.4, 4.6, 4.7, 4.8, 4.9], "tickSize": -6.5, "labels": false, "title": null}},
  "y": {"field": "y", "type": "quantitative", "scale": {"domain": [-18, -12], "nice": false, "zero": false},
        "axis": {"orient": "left", "values": [-12.5, -13, -13.5, -14.5, -15, -15.5, -16.5, -17, -17.5], "tickSize": -6.5, "labels": false, "title": null}}
 }
},
{
 "data": {"values": [{"x": 3.2, "y": -13}]},
 "mark": {"type": "point", "opacity": 0},
 "encoding": {
  "x": {"field": "x", "type": "quantitative", "scale": {"domain": [3, 5], "nice": false, "zero": false},
        "axis": {"orient": "top", "values": [3, 3.5, 4, 4.5, 5], "tickSize": -13, "labels": false, "title": null}},
  "y": {"field": "y", "type": "quantitative", "scale": {"domain": [-18, -12], "nice": false, "zero": false},
        "axis": {"orient": "right", "values": [-12, -14, -16, -18], "tickSize": -13, "labels": false, "title": null}}
 }
},
{
 "data": {"values": [{"x": 3.2, "y": -13}]},
 "mark": {"type": "point", "opacity": 0},
 "encoding": {
  "x": {"field": "x", "type": "quantitative", "scale": {"domain": [3, 5], "nice": false, "zero": false},
        "axis": {"orient": "top", "values": [3.1, 3.2, 3.3, 3.4, 3.6, 3.7, 3.8, 3.9, 4.1, 4.2, 4.3, 4.4, 4.6, 4.7, 4.8, 4.9], "tickSize": -6.5, "labels": false, "title": null}},
  "y": {"field": "y", "type": "quantitative", "scale": {"domain": [-18, -12], "nice": false, "zero": false},
        "axis": {"orient": "right", "values": [-12.5, -13, -13.5, -14.5, -15, -15.5, -16.5, -17, -17.5], "tickSize": -6.5, "labels": false, "title": null}}
 }
},
{
 "encoding": {
  "x": {"field": "x", "type": "quantitative", "scale": {"domain": [3.05, 3.467], "range": [403, 697], "nice": false, "zero": false}, "axis": null},
  "y": {"field": "y", "type": "quantitative", "scale": {"domain": [-14, -12.3], "range": [305, 0], "nice": false, "zero": false, "clamp": true}, "axis": null}
 },
 "layer": [
  {"data": {"name": "lines"}, "transform": [{"filter": "datum.s === 'g' && datum.x >= 3.05 && datum.x <= 3.467"}], "mark": {"type": "line", "color": "#2e8b2e", "strokeWidth": 1.1}},
  {"data": {"name": "lines"}, "transform": [{"filter": "datum.s === 'c'"}], "mark": {"type": "line", "color": "#22e8f0", "strokeWidth": 1.1}},
  {"data": {"name": "lines"}, "transform": [{"filter": "datum.s === 'b' && datum.x <= 3.467"}], "mark": {"type": "line", "color": "#0000ff", "strokeWidth": 1.1}},
  {"data": {"name": "lines"}, "transform": [{"filter": "datum.s === 'y' && datum.x >= 3.05 && datum.x <= 3.467"}], "mark": {"type": "line", "color": "#9c9400", "strokeWidth": 1.1}},
  {"data": {"name": "phot"}, "transform": [{"filter": "datum.x <= 3.467"}], "mark": {"type": "rule", "strokeWidth": 1.2},
   "encoding": {"y": {"field": "lo", "type": "quantitative", "scale": {"domain": [-14, -12.3], "range": [305, 0], "nice": false, "zero": false, "clamp": true}, "axis": null}, "y2": {"field": "hi"},
    "color": {"field": "set", "type": "nominal", "scale": {"domain": ["blk", "lime", "orc", "pink", "red"], "range": ["#000000", "#22ee22", "#cc66cc", "#ff1177", "#ff0000"]}, "legend": null}}},
  {"data": {"name": "phot"}, "transform": [{"filter": "datum.x <= 3.467"}], "mark": {"type": "tick", "orient": "horizontal", "size": 10, "thickness": 1.3},
   "encoding": {"y": {"field": "lo", "type": "quantitative", "scale": {"domain": [-14, -12.3], "range": [305, 0], "nice": false, "zero": false, "clamp": true}, "axis": null},
    "color": {"field": "set", "type": "nominal", "scale": {"domain": ["blk", "lime", "orc", "pink", "red"], "range": ["#000000", "#22ee22", "#cc66cc", "#ff1177", "#ff0000"]}, "legend": null}}},
  {"data": {"name": "phot"}, "transform": [{"filter": "datum.x <= 3.467"}], "mark": {"type": "tick", "orient": "horizontal", "size": 10, "thickness": 1.3},
   "encoding": {"y": {"field": "hi", "type": "quantitative", "scale": {"domain": [-14, -12.3], "range": [305, 0], "nice": false, "zero": false, "clamp": true}, "axis": null},
    "color": {"field": "set", "type": "nominal", "scale": {"domain": ["blk", "lime", "orc", "pink", "red"], "range": ["#000000", "#22ee22", "#cc66cc", "#ff1177", "#ff0000"]}, "legend": null}}},
  {"data": {"name": "phot"}, "transform": [{"filter": "datum.x <= 3.467"}], "mark": {"type": "circle", "size": 8, "opacity": 1},
   "encoding": {"color": {"field": "set", "type": "nominal", "scale": {"domain": ["blk", "lime", "orc", "pink", "red"], "range": ["#000000", "#22ee22", "#cc66cc", "#ff1177", "#ff0000"]}, "legend": null}}},
  {"data": {"name": "photx"}, "mark": {"type": "rule", "strokeWidth": 2.5},
   "encoding": {"x": {"field": "xlo", "type": "quantitative", "scale": {"domain": [3.05, 3.467], "range": [403, 697], "nice": false, "zero": false}, "axis": null}, "x2": {"field": "xhi"},
    "color": {"field": "set", "type": "nominal", "scale": {"domain": ["blk", "lime", "orc", "pink", "red"], "range": ["#000000", "#22ee22", "#cc66cc", "#ff1177", "#ff0000"]}, "legend": null}}}
 ]
},
{
 "data": {"values": [{"x": 3.2, "y": -13}]},
 "mark": {"type": "point", "opacity": 0},
 "encoding": {
  "x": {"field": "x", "type": "quantitative", "scale": {"domain": [3.05, 3.467], "range": [403, 697], "nice": false, "zero": false},
        "axis": {"orient": "bottom", "offset": -392, "values": [3.1, 3.2, 3.3, 3.4], "tickSize": -7, "labelPadding": 12, "labelFont": "Liberation Sans", "labelFontSize": 13, "labelFontWeight": "bold", "labelFlush": false, "labelOverlap": false, "labelExpr": "'' + datum.value", "title": null}},
  "y": {"field": "y", "type": "quantitative", "scale": {"domain": [-14, -12.3], "range": [305, 0], "nice": false, "zero": false},
        "axis": {"orient": "left", "offset": -403, "values": [-12.5, -13, -13.5, -14], "tickSize": -7, "labelPadding": 15, "labelFont": "Liberation Sans", "labelFontSize": 13, "labelFontWeight": "bold", "labelFlush": false, "labelOverlap": false, "labelExpr": "'\u2212' + abs(datum.value)", "title": null}}
 }
},
{
 "data": {"values": [{"x": 3.2, "y": -13}]},
 "mark": {"type": "point", "opacity": 0},
 "encoding": {
  "x": {"field": "x", "type": "quantitative", "scale": {"domain": [3.05, 3.467], "range": [403, 697], "nice": false, "zero": false},
        "axis": {"orient": "bottom", "offset": -392, "values": [3.06, 3.08, 3.12, 3.14, 3.16, 3.18, 3.22, 3.24, 3.26, 3.28, 3.32, 3.34, 3.36, 3.38, 3.42, 3.44, 3.46], "tickSize": -4, "labels": false, "title": null}},
  "y": {"field": "y", "type": "quantitative", "scale": {"domain": [-14, -12.3], "range": [305, 0], "nice": false, "zero": false},
        "axis": {"orient": "left", "offset": -403, "values": [-12.4, -12.6, -12.7, -12.8, -12.9, -13.1, -13.2, -13.3, -13.4, -13.6, -13.7, -13.8, -13.9], "tickSize": -4, "labels": false, "title": null}}
 }
},
{
 "data": {"values": [{"x": 3.2, "y": -13}]},
 "mark": {"type": "point", "opacity": 0},
 "encoding": {
  "x": {"field": "x", "type": "quantitative", "scale": {"domain": [3.05, 3.467], "range": [403, 697], "nice": false, "zero": false},
        "axis": {"orient": "top", "values": [3.1, 3.2, 3.3, 3.4], "tickSize": -7, "labels": false, "title": null}},
  "y": {"field": "y", "type": "quantitative", "scale": {"domain": [-14, -12.3], "range": [305, 0], "nice": false, "zero": false},
        "axis": {"orient": "right", "values": [-12.5, -13, -13.5, -14], "tickSize": -7, "labels": false, "title": null}}
 }
},
{
 "data": {"values": [{"x": 3.2, "y": -13}]},
 "mark": {"type": "point", "opacity": 0},
 "encoding": {
  "x": {"field": "x", "type": "quantitative", "scale": {"domain": [3.05, 3.467], "range": [403, 697], "nice": false, "zero": false},
        "axis": {"orient": "top", "values": [3.06, 3.08, 3.12, 3.14, 3.16, 3.18, 3.22, 3.24, 3.26, 3.28, 3.32, 3.34, 3.36, 3.38, 3.42, 3.44, 3.46], "tickSize": -4, "labels": false, "title": null}},
  "y": {"field": "y", "type": "quantitative", "scale": {"domain": [-14, -12.3], "range": [305, 0], "nice": false, "zero": false},
        "axis": {"orient": "right", "values": [-12.4, -12.6, -12.7, -12.8, -12.9, -13.1, -13.2, -13.3, -13.4, -13.6, -13.7, -13.8, -13.9], "tickSize": -4, "labels": false, "title": null}}
 }
}
]
}
